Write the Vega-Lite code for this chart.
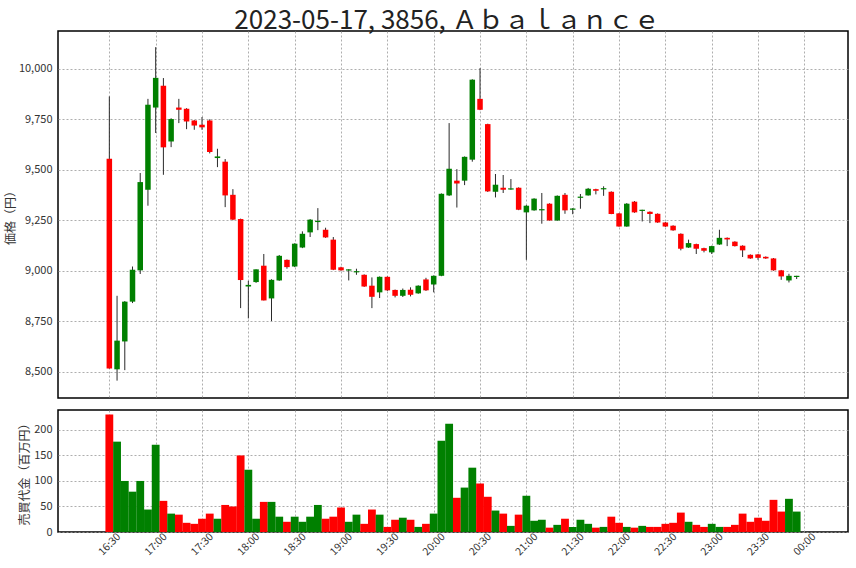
{
  "$schema": "https://vega.github.io/schema/vega-lite/v6.json",
  "padding": {"left": 3, "top": 8, "right": 5, "bottom": 5},
  "title": {"text": "2023-05-17, 3856, Ａｂａｌａｎｃｅ", "fontSize": 26, "font": "Noto Sans CJK JP", "fontWeight": "normal", "color": "#222222", "anchor": "middle", "offset": -4, "dx": 21},
  "config": {
    "font": "Noto Sans CJK JP",
    "view": {"stroke": "black", "strokeWidth": 1.5},
    "axis": {"gridColor": "#999999", "gridDash": [2, 2], "gridWidth": 0.8, "domain": false, "ticks": false, "labelFontSize": 11, "labelColor": "#333333", "titleFontSize": 12, "titleFontWeight": "normal", "titleColor": "#333333", "labelFont": "Noto Sans CJK JP", "titleFont": "Noto Sans CJK JP"}
  },
  "datasets": {
    "d": [
      {"t": "2023-05-17T16:30:00Z", "o": 9554, "h": 9863, "l": 8516, "c": 8516, "v": 230},
      {"t": "2023-05-17T16:35:00Z", "o": 8512, "h": 8876, "l": 8456, "c": 8654, "v": 177},
      {"t": "2023-05-17T16:40:00Z", "o": 8650, "h": 8850, "l": 8508, "c": 8847, "v": 100},
      {"t": "2023-05-17T16:45:00Z", "o": 8847, "h": 9021, "l": 8840, "c": 9005, "v": 79},
      {"t": "2023-05-17T16:50:00Z", "o": 9002, "h": 9484, "l": 8984, "c": 9439, "v": 100},
      {"t": "2023-05-17T16:55:00Z", "o": 9401, "h": 9851, "l": 9322, "c": 9822, "v": 44},
      {"t": "2023-05-17T17:00:00Z", "o": 9808, "h": 10107, "l": 9682, "c": 9955, "v": 171},
      {"t": "2023-05-17T17:05:00Z", "o": 9916, "h": 9954, "l": 9475, "c": 9611, "v": 61},
      {"t": "2023-05-17T17:10:00Z", "o": 9640, "h": 9755, "l": 9612, "c": 9751, "v": 36},
      {"t": "2023-05-17T17:15:00Z", "o": 9808, "h": 9851, "l": 9731, "c": 9797, "v": 34},
      {"t": "2023-05-17T17:20:00Z", "o": 9802, "h": 9805, "l": 9701, "c": 9739, "v": 18},
      {"t": "2023-05-17T17:25:00Z", "o": 9744, "h": 9746, "l": 9698, "c": 9719, "v": 16},
      {"t": "2023-05-17T17:30:00Z", "o": 9723, "h": 9761, "l": 9698, "c": 9710, "v": 26},
      {"t": "2023-05-17T17:35:00Z", "o": 9744, "h": 9750, "l": 9581, "c": 9588, "v": 36},
      {"t": "2023-05-17T17:40:00Z", "o": 9558, "h": 9604, "l": 9513, "c": 9566, "v": 26},
      {"t": "2023-05-17T17:45:00Z", "o": 9540, "h": 9553, "l": 9315, "c": 9373, "v": 53},
      {"t": "2023-05-17T17:50:00Z", "o": 9376, "h": 9404, "l": 9250, "c": 9253, "v": 50},
      {"t": "2023-05-17T17:55:00Z", "o": 9256, "h": 9258, "l": 8815, "c": 8954, "v": 150},
      {"t": "2023-05-17T18:00:00Z", "o": 8922, "h": 8950, "l": 8764, "c": 8930, "v": 122},
      {"t": "2023-05-17T18:05:00Z", "o": 8944, "h": 9007, "l": 8940, "c": 9007, "v": 26},
      {"t": "2023-05-17T18:10:00Z", "o": 9025, "h": 9083, "l": 8853, "c": 8853, "v": 59},
      {"t": "2023-05-17T18:15:00Z", "o": 8863, "h": 8958, "l": 8751, "c": 8955, "v": 59},
      {"t": "2023-05-17T18:20:00Z", "o": 8952, "h": 9078, "l": 8950, "c": 9074, "v": 30},
      {"t": "2023-05-17T18:25:00Z", "o": 9054, "h": 9056, "l": 9010, "c": 9018, "v": 20},
      {"t": "2023-05-17T18:30:00Z", "o": 9021, "h": 9136, "l": 9018, "c": 9134, "v": 30},
      {"t": "2023-05-17T18:35:00Z", "o": 9115, "h": 9195, "l": 9112, "c": 9183, "v": 20},
      {"t": "2023-05-17T18:40:00Z", "o": 9190, "h": 9256, "l": 9167, "c": 9253, "v": 30},
      {"t": "2023-05-17T18:45:00Z", "o": 9241, "h": 9310, "l": 9201, "c": 9247, "v": 53},
      {"t": "2023-05-17T18:50:00Z", "o": 9203, "h": 9213, "l": 9163, "c": 9165, "v": 26},
      {"t": "2023-05-17T18:55:00Z", "o": 9154, "h": 9167, "l": 9003, "c": 9005, "v": 30},
      {"t": "2023-05-17T19:00:00Z", "o": 9017, "h": 9020, "l": 9000, "c": 9002, "v": 48},
      {"t": "2023-05-17T19:05:00Z", "o": 9001, "h": 9008, "l": 8952, "c": 9007, "v": 20},
      {"t": "2023-05-17T19:10:00Z", "o": 8992, "h": 9010, "l": 8980, "c": 8998, "v": 34},
      {"t": "2023-05-17T19:15:00Z", "o": 8980, "h": 8982, "l": 8920, "c": 8922, "v": 16},
      {"t": "2023-05-17T19:20:00Z", "o": 8926, "h": 8967, "l": 8815, "c": 8871, "v": 44},
      {"t": "2023-05-17T19:25:00Z", "o": 8893, "h": 8972, "l": 8865, "c": 8970, "v": 34},
      {"t": "2023-05-17T19:30:00Z", "o": 8970, "h": 8972, "l": 8900, "c": 8903, "v": 10},
      {"t": "2023-05-17T19:35:00Z", "o": 8905, "h": 8907, "l": 8868, "c": 8876, "v": 24},
      {"t": "2023-05-17T19:40:00Z", "o": 8876, "h": 8912, "l": 8870, "c": 8905, "v": 28},
      {"t": "2023-05-17T19:45:00Z", "o": 8906, "h": 8918, "l": 8873, "c": 8881, "v": 24},
      {"t": "2023-05-17T19:50:00Z", "o": 8888, "h": 8928, "l": 8886, "c": 8926, "v": 10},
      {"t": "2023-05-17T19:55:00Z", "o": 8957, "h": 8965, "l": 8900, "c": 8903, "v": 16},
      {"t": "2023-05-17T20:00:00Z", "o": 8932, "h": 8977, "l": 8893, "c": 8975, "v": 36},
      {"t": "2023-05-17T20:05:00Z", "o": 8975, "h": 9383, "l": 8973, "c": 9381, "v": 179},
      {"t": "2023-05-17T20:10:00Z", "o": 9373, "h": 9731, "l": 9370, "c": 9505, "v": 212},
      {"t": "2023-05-17T20:15:00Z", "o": 9446, "h": 9503, "l": 9313, "c": 9432, "v": 67},
      {"t": "2023-05-17T20:20:00Z", "o": 9446, "h": 9566, "l": 9424, "c": 9564, "v": 87},
      {"t": "2023-05-17T20:25:00Z", "o": 9550, "h": 9948, "l": 9540, "c": 9946, "v": 126},
      {"t": "2023-05-17T20:30:00Z", "o": 9851, "h": 10003, "l": 9795, "c": 9797, "v": 95},
      {"t": "2023-05-17T20:35:00Z", "o": 9726, "h": 9728, "l": 9390, "c": 9393, "v": 69},
      {"t": "2023-05-17T20:40:00Z", "o": 9391, "h": 9479, "l": 9363, "c": 9426, "v": 42},
      {"t": "2023-05-17T20:45:00Z", "o": 9411, "h": 9474, "l": 9385, "c": 9401, "v": 36},
      {"t": "2023-05-17T20:50:00Z", "o": 9402, "h": 9454, "l": 9401, "c": 9408, "v": 12},
      {"t": "2023-05-17T20:55:00Z", "o": 9411, "h": 9413, "l": 9300, "c": 9302, "v": 34},
      {"t": "2023-05-17T21:00:00Z", "o": 9289, "h": 9325, "l": 9054, "c": 9322, "v": 71},
      {"t": "2023-05-17T21:05:00Z", "o": 9299, "h": 9359, "l": 9297, "c": 9357, "v": 22},
      {"t": "2023-05-17T21:10:00Z", "o": 9299, "h": 9385, "l": 9233, "c": 9305, "v": 24},
      {"t": "2023-05-17T21:15:00Z", "o": 9332, "h": 9334, "l": 9248, "c": 9249, "v": 8.5},
      {"t": "2023-05-17T21:20:00Z", "o": 9249, "h": 9373, "l": 9247, "c": 9371, "v": 14},
      {"t": "2023-05-17T21:25:00Z", "o": 9376, "h": 9385, "l": 9282, "c": 9299, "v": 26},
      {"t": "2023-05-17T21:30:00Z", "o": 9302, "h": 9310, "l": 9280, "c": 9308, "v": 10},
      {"t": "2023-05-17T21:35:00Z", "o": 9361, "h": 9380, "l": 9307, "c": 9367, "v": 24},
      {"t": "2023-05-17T21:40:00Z", "o": 9373, "h": 9410, "l": 9372, "c": 9406, "v": 16},
      {"t": "2023-05-17T21:45:00Z", "o": 9404, "h": 9406, "l": 9378, "c": 9396, "v": 8.5},
      {"t": "2023-05-17T21:50:00Z", "o": 9403, "h": 9418, "l": 9371, "c": 9409, "v": 10},
      {"t": "2023-05-17T21:55:00Z", "o": 9391, "h": 9393, "l": 9280, "c": 9281, "v": 30},
      {"t": "2023-05-17T22:00:00Z", "o": 9284, "h": 9286, "l": 9218, "c": 9219, "v": 18},
      {"t": "2023-05-17T22:05:00Z", "o": 9219, "h": 9335, "l": 9218, "c": 9332, "v": 10},
      {"t": "2023-05-17T22:10:00Z", "o": 9342, "h": 9345, "l": 9287, "c": 9289, "v": 8.5},
      {"t": "2023-05-17T22:15:00Z", "o": 9296, "h": 9302, "l": 9244, "c": 9302, "v": 12},
      {"t": "2023-05-17T22:20:00Z", "o": 9292, "h": 9294, "l": 9236, "c": 9281, "v": 10},
      {"t": "2023-05-17T22:25:00Z", "o": 9282, "h": 9284, "l": 9237, "c": 9239, "v": 10},
      {"t": "2023-05-17T22:30:00Z", "o": 9239, "h": 9241, "l": 9217, "c": 9219, "v": 16},
      {"t": "2023-05-17T22:35:00Z", "o": 9223, "h": 9225, "l": 9198, "c": 9200, "v": 18},
      {"t": "2023-05-17T22:40:00Z", "o": 9183, "h": 9185, "l": 9101, "c": 9109, "v": 38},
      {"t": "2023-05-17T22:45:00Z", "o": 9115, "h": 9154, "l": 9113, "c": 9137, "v": 20},
      {"t": "2023-05-17T22:50:00Z", "o": 9132, "h": 9134, "l": 9083, "c": 9109, "v": 14},
      {"t": "2023-05-17T22:55:00Z", "o": 9112, "h": 9114, "l": 9091, "c": 9099, "v": 10},
      {"t": "2023-05-17T23:00:00Z", "o": 9091, "h": 9124, "l": 9083, "c": 9122, "v": 16},
      {"t": "2023-05-17T23:05:00Z", "o": 9130, "h": 9203, "l": 9128, "c": 9163, "v": 10},
      {"t": "2023-05-17T23:10:00Z", "o": 9163, "h": 9165, "l": 9122, "c": 9155, "v": 10},
      {"t": "2023-05-17T23:15:00Z", "o": 9144, "h": 9146, "l": 9120, "c": 9122, "v": 14},
      {"t": "2023-05-17T23:20:00Z", "o": 9124, "h": 9126, "l": 9068, "c": 9101, "v": 36},
      {"t": "2023-05-17T23:25:00Z", "o": 9079, "h": 9081, "l": 9059, "c": 9061, "v": 20},
      {"t": "2023-05-17T23:30:00Z", "o": 9081, "h": 9083, "l": 9054, "c": 9064, "v": 28},
      {"t": "2023-05-17T23:35:00Z", "o": 9069, "h": 9071, "l": 9059, "c": 9061, "v": 22},
      {"t": "2023-05-17T23:40:00Z", "o": 9061, "h": 9063, "l": 9000, "c": 9002, "v": 63},
      {"t": "2023-05-17T23:45:00Z", "o": 9002, "h": 9004, "l": 8955, "c": 8972, "v": 40},
      {"t": "2023-05-17T23:50:00Z", "o": 8952, "h": 8985, "l": 8942, "c": 8975, "v": 65},
      {"t": "2023-05-17T23:55:00Z", "o": 8969, "h": 8975, "l": 8959, "c": 8975, "v": 40}
    ]
  },
  "spacing": 10,
  "vconcat": [
    {
      "width": 790,
      "height": 367,
      "data": {"name": "d"},
      "encoding": {
        "x": {
          "field": "t", "type": "temporal",
          "scale": {"type": "utc", "domain": [{"year": 2023, "month": 5, "date": 17, "hours": 16, "minutes": 0, "utc": true}, {"year": 2023, "month": 5, "date": 18, "hours": 0, "minutes": 25, "utc": true}]},
          "axis": {"labels": false, "title": null, "grid": true, "values": [
            {"year": 2023, "month": 5, "date": 17, "hours": 16, "minutes": 30, "utc": true},
            {"year": 2023, "month": 5, "date": 17, "hours": 17, "minutes": 0, "utc": true},
            {"year": 2023, "month": 5, "date": 17, "hours": 17, "minutes": 30, "utc": true},
            {"year": 2023, "month": 5, "date": 17, "hours": 18, "minutes": 0, "utc": true},
            {"year": 2023, "month": 5, "date": 17, "hours": 18, "minutes": 30, "utc": true},
            {"year": 2023, "month": 5, "date": 17, "hours": 19, "minutes": 0, "utc": true},
            {"year": 2023, "month": 5, "date": 17, "hours": 19, "minutes": 30, "utc": true},
            {"year": 2023, "month": 5, "date": 17, "hours": 20, "minutes": 0, "utc": true},
            {"year": 2023, "month": 5, "date": 17, "hours": 20, "minutes": 30, "utc": true},
            {"year": 2023, "month": 5, "date": 17, "hours": 21, "minutes": 0, "utc": true},
            {"year": 2023, "month": 5, "date": 17, "hours": 21, "minutes": 30, "utc": true},
            {"year": 2023, "month": 5, "date": 17, "hours": 22, "minutes": 0, "utc": true},
            {"year": 2023, "month": 5, "date": 17, "hours": 22, "minutes": 30, "utc": true},
            {"year": 2023, "month": 5, "date": 17, "hours": 23, "minutes": 0, "utc": true},
            {"year": 2023, "month": 5, "date": 17, "hours": 23, "minutes": 30, "utc": true},
            {"year": 2023, "month": 5, "date": 18, "hours": 0, "minutes": 0, "utc": true}
          ]}
        }
      },
      "layer": [
        {
          "mark": {"type": "rule", "color": "#2a2a2a", "strokeWidth": 1},
          "encoding": {
            "y": {"field": "l", "type": "quantitative", "scale": {"domain": [8370, 10187], "nice": false, "zero": false}, "axis": {"title": "価格（円）", "values": [8500, 8750, 9000, 9250, 9500, 9750, 10000], "format": ",d", "labelPadding": 6, "titleX": -41}},
            "y2": {"field": "h"}
          }
        },
        {
          "mark": {"type": "bar", "width": 5.5},
          "encoding": {
            "y": {"field": "o", "type": "quantitative"},
            "y2": {"field": "c"},
            "color": {"condition": {"test": "datum.c >= datum.o", "value": "#008000"}, "value": "#ff0000"}
          }
        }
      ]
    },
    {
      "width": 790,
      "height": 122,
      "data": {"name": "d"},
      "mark": {"type": "bar", "width": 7.82},
      "encoding": {
        "x": {
          "field": "t", "type": "temporal",
          "scale": {"type": "utc", "domain": [{"year": 2023, "month": 5, "date": 17, "hours": 16, "minutes": 0, "utc": true}, {"year": 2023, "month": 5, "date": 18, "hours": 0, "minutes": 25, "utc": true}]},
          "axis": {"title": null, "grid": true, "format": "%H:%M", "labelAngle": -45, "labelAlign": "center", "labelBaseline": "middle", "labelPadding": 12, "labelFontSize": 10.5, "values": [
            {"year": 2023, "month": 5, "date": 17, "hours": 16, "minutes": 30, "utc": true},
            {"year": 2023, "month": 5, "date": 17, "hours": 17, "minutes": 0, "utc": true},
            {"year": 2023, "month": 5, "date": 17, "hours": 17, "minutes": 30, "utc": true},
            {"year": 2023, "month": 5, "date": 17, "hours": 18, "minutes": 0, "utc": true},
            {"year": 2023, "month": 5, "date": 17, "hours": 18, "minutes": 30, "utc": true},
            {"year": 2023, "month": 5, "date": 17, "hours": 19, "minutes": 0, "utc": true},
            {"year": 2023, "month": 5, "date": 17, "hours": 19, "minutes": 30, "utc": true},
            {"year": 2023, "month": 5, "date": 17, "hours": 20, "minutes": 0, "utc": true},
            {"year": 2023, "month": 5, "date": 17, "hours": 20, "minutes": 30, "utc": true},
            {"year": 2023, "month": 5, "date": 17, "hours": 21, "minutes": 0, "utc": true},
            {"year": 2023, "month": 5, "date": 17, "hours": 21, "minutes": 30, "utc": true},
            {"year": 2023, "month": 5, "date": 17, "hours": 22, "minutes": 0, "utc": true},
            {"year": 2023, "month": 5, "date": 17, "hours": 22, "minutes": 30, "utc": true},
            {"year": 2023, "month": 5, "date": 17, "hours": 23, "minutes": 0, "utc": true},
            {"year": 2023, "month": 5, "date": 17, "hours": 23, "minutes": 30, "utc": true},
            {"year": 2023, "month": 5, "date": 18, "hours": 0, "minutes": 0, "utc": true}
          ]}
        },
        "y": {"field": "v", "type": "quantitative", "scale": {"domain": [0, 239], "nice": false}, "axis": {"title": "売買代金（百万円）", "values": [0, 50, 100, 150, 200], "labelPadding": 6, "titleX": -27}},
        "color": {"condition": {"test": "datum.c >= datum.o", "value": "#008000"}, "value": "#ff0000"}
      }
    }
  ]
}
